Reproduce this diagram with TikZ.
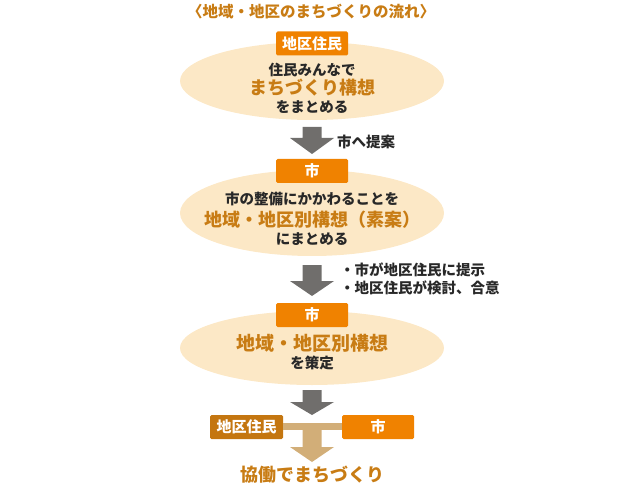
\documentclass[tikz,border=0pt]{standalone}
\usepackage{fontspec}
\setmainfont{Noto Sans CJK JP}
\usetikzlibrary{calc, positioning}

\definecolor{tagorange}{RGB}{240,130,0}
\definecolor{tagbrown}{RGB}{196,118,16}
\definecolor{headorange}{RGB}{200,124,20}
\definecolor{bubblefill}{RGB}{252,232,198}
\definecolor{arrowgray}{RGB}{112,110,108}
\definecolor{arrowtan}{RGB}{210,174,120}
\definecolor{textdark}{RGB}{40,40,40}

\tikzset{
  tag/.style={fill=tagorange, text=white, minimum width=72pt, minimum height=24pt,
    inner sep=0pt, rounded corners=1.5pt, font=\bfseries\fontsize{15}{15}\selectfont},
  plain/.style={text=textdark, inner sep=0pt, font=\bfseries\fontsize{14.5}{14.5}\selectfont},
  big/.style={text=headorange, inner sep=0pt, font=\bfseries\fontsize{18}{18}\selectfont},
}

% block arrow pointing down: colour, x, top, neck, tip
\newcommand{\flowarrow}[5]{%
  \fill[#1] (#2-9.5,#3) -- (#2+9.5,#3) -- (#2+9.5,#4) -- (#2+22,#4)
    -- (#2,#5) -- (#2-22,#4) -- (#2-9.5,#4) -- cycle;}

\begin{document}
\begin{tikzpicture}[x=1pt, y=-1pt]
\def\cx{312}
\def\rx{132}
\useasboundingbox (0,0) rectangle (620,486);

% Title
\node[big, font=\bfseries\fontsize{15.5}{15.5}\selectfont] (title) at (311,12) {〈地域・地区のまちづくりの流れ〉};

% Step 1: residents
\fill[bubblefill] (\cx,81) ellipse [x radius=\rx, y radius=39];
\node[tag] (tagA) at (\cx,43.5) {地区住民};
\node[plain] (lineA1) at (\cx,70) {住民みんなで};
\node[big] (lineA2) at (\cx,88) {まちづくり構想};
\node[plain] (lineA3) at (\cx,107) {をまとめる};

\flowarrow{arrowgray}{\cx}{127}{138}{154}
\node[plain, anchor=west] (noteA) at (337,142) {市へ提案};

% Step 2: city draft
\fill[bubblefill] (\cx,213) ellipse [x radius=\rx, y radius=43];
\node[tag] (tagB) at (\cx,171) {市};
\node[plain] (lineB1) at (\cx,199) {市の整備にかかわることを};
\node[big] (lineB2) at (\cx,220) {地域・地区別構想（素案）};
\node[plain] (lineB3) at (\cx,239) {にまとめる};

\flowarrow{arrowgray}{\cx}{265}{281}{296}
\node[plain, anchor=west] (noteB1) at (340,270) {・市が地区住民に提示};
\node[plain, anchor=west] (noteB2) at (340,288) {・地区住民が検討、合意};

% Step 3: city decision
\fill[bubblefill] (\cx,348) ellipse [x radius=\rx, y radius=37];
\node[tag] (tagC) at (\cx,315) {市};
\node[big, font=\bfseries\fontsize{19}{19}\selectfont] (lineC1) at (\cx,343) {地域・地区別構想};
\node[plain] (lineC2) at (\cx,363) {を策定};

\flowarrow{arrowgray}{\cx}{390}{402}{415}

% Step 4: working together
\node[tag, fill=tagbrown, minimum width=73pt] (tagD) at (246.5,427) {地区住民};
\node[tag] (tagE) at (378,427) {市};
\fill[arrowtan] (tagD.east |- 0,423) rectangle (tagE.west |- 0,430);
\flowarrow{arrowtan}{\cx}{428}{447}{462}
\node[big] (goal) at (\cx,475) {協働でまちづくり};
\end{tikzpicture}
\end{document}
